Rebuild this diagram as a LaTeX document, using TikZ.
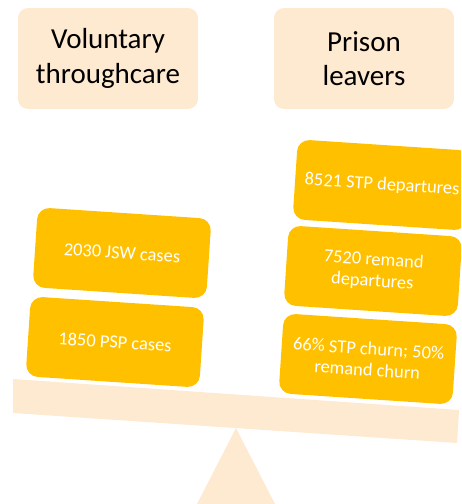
\documentclass[tikz,border=0pt]{standalone}
\usepackage{fontspec}
\setmainfont{Carlito}
\usepackage{tikz}
\usetikzlibrary{positioning}
\definecolor{peach}{RGB}{254, 233, 209}
\definecolor{gold}{RGB}{255, 192, 0}

\tikzset{
    headbox/.style={fill=peach, rounded corners=0.2cm, minimum width=3.6cm, minimum height=2.02cm,
        align=center, font=\fontsize{16.5}{19.5}\selectfont},
    weightbox/.style={fill=gold, text=white, rounded corners=0.24cm, minimum width=3.48cm, minimum height=1.6cm,
        align=center, rotate=-3.8, font=\fontsize{10.5}{12.2}\selectfont}
}

\begin{document}
\begin{tikzpicture}[x=0.02cm, y=-0.02cm]
    \clip (0,0) rectangle (461,504);

    % 两侧标题
    \node[headbox] (volhead) at (108, 58.5) {Voluntary\\throughcare};
    \node[headbox] (prihead) at (364, 58.5) {Prison\\leavers};

    % 支点与横梁
    \fill[peach] (236, 428) -- (275, 504) -- (197, 504) -- cycle;
    \fill[peach] (13, 379) -- (459, 410) -- (457, 443) -- (13, 413) -- cycle;

    % 左侧砝码
    \node[weightbox] (jsw) at (122, 253) {2030 JSW cases};
    \node[weightbox] (psp) at (115, 342) {1850 PSP cases};

    % 右侧砝码
    \node[weightbox] (stp) at (382, 185) {8521 STP departures};
    \node[weightbox] (remand) at (373, 271) {7520 remand\\departures};
    \node[weightbox] (churn) at (368, 359) {66\% STP churn; 50\%\\remand churn};
\end{tikzpicture}
\end{document}
